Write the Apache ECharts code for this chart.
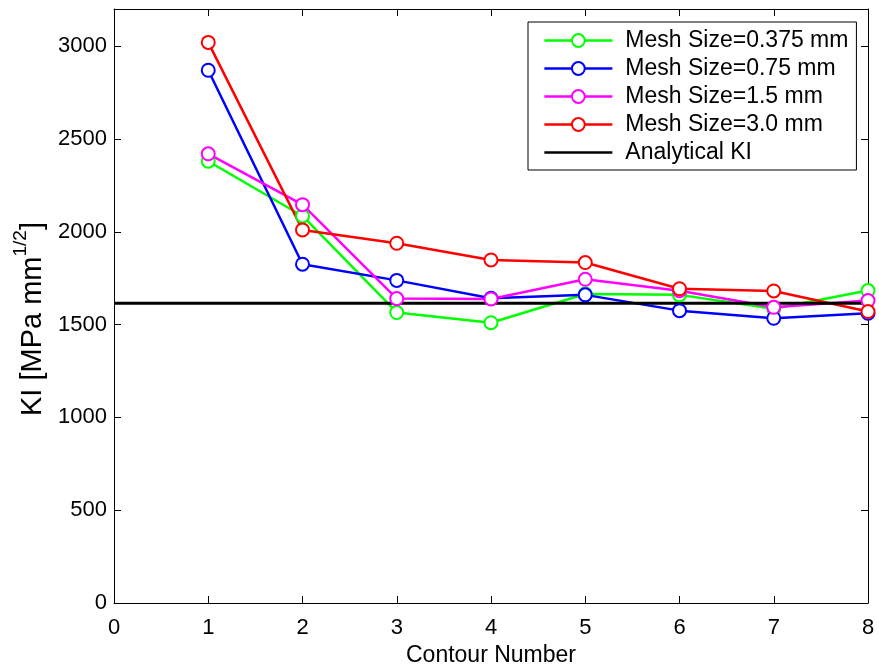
<!DOCTYPE html>
<html>
<head>
<meta charset="utf-8">
<script src="https://cdn.jsdelivr.net/npm/echarts@6/dist/echarts.min.js"></script>
<style>
  html, body { margin: 0; padding: 0; background: #fff; }
  #chart { width: 879px; height: 667px; }
</style>
</head>
<body>
<div id="chart"></div>
<script>
// Stress intensity factor KI per contour, for several mesh sizes
const contours = [1, 2, 3, 4, 5, 6, 7, 8];
const mesh0375 = [2380, 2085, 1565, 1510, 1665, 1660, 1585, 1683];
const mesh075  = [2870, 1825, 1738, 1642, 1660, 1575, 1534, 1561];
const mesh15   = [2420, 2146, 1640, 1638, 1744, 1682, 1593, 1629];
const mesh30   = [3020, 2010, 1938, 1848, 1834, 1693, 1681, 1570];
const analyticalKI = 1615;
const analyticalSpan = [0, 8];
const xTicks = [0, 1, 2, 3, 4, 5, 6, 7, 8];
const yTicks = [0, 500, 1000, 1500, 2000, 2500, 3000];
const seriesNames = ['Mesh Size=0.375 mm', 'Mesh Size=0.75 mm', 'Mesh Size=1.5 mm', 'Mesh Size=3.0 mm', 'Analytical KI'];
const seriesColors = ['#00ff00', '#0000ff', '#ff00ff', '#ff0000', '#000000'];

const FONT = 'Liberation Sans, Arial, Helvetica, sans-serif';
const pair = (ys) => contours.map((x, i) => [x, ys[i]]);

function meshSeries(idx, ys) {
  return {
    name: seriesNames[idx],
    type: 'line',
    data: pair(ys),
    symbol: 'emptyCircle',
    symbolSize: 13,
    showAllSymbol: true,
    lineStyle: { color: seriesColors[idx], width: 2.5 },
    itemStyle: { color: seriesColors[idx], borderColor: seriesColors[idx], borderWidth: 2.5 },
    animation: false
  };
}

function axisLine() {
  return { show: true, onZero: false, lineStyle: { color: '#000', width: 1 } };
}
function ticks(values) {
  return { show: true, inside: true, length: 7, customValues: values, lineStyle: { color: '#000', width: 1 } };
}

const chart = echarts.init(document.getElementById('chart'), null, { renderer: 'canvas' });

chart.setOption({
  backgroundColor: '#fff',
  animation: false,
  grid: { left: 114, right: 11, top: 9, bottom: 64, containLabel: false, outerBoundsMode: 'none' },
  xAxis: [
    {
      type: 'value', min: 0, max: 8, interval: 1,
      axisLine: axisLine(), axisTick: ticks(xTicks), splitLine: { show: false },
      axisLabel: { color: '#000', fontSize: 22, fontFamily: FONT, margin: 14, customValues: xTicks,
        formatter: (v) => String(v) },
      name: 'Contour Number', nameLocation: 'middle', nameGap: 36,
      nameTextStyle: { color: '#000', fontSize: 23, fontFamily: FONT }
    },
    {
      type: 'value', min: 0, max: 8, interval: 1, position: 'top',
      axisLine: axisLine(), axisTick: ticks(xTicks), splitLine: { show: false },
      axisLabel: { show: false }
    }
  ],
  yAxis: [
    {
      type: 'value', min: 0, max: 3200, interval: 500,
      axisLine: axisLine(), axisTick: ticks(yTicks), splitLine: { show: false },
      axisLabel: { color: '#000', fontSize: 22, fontFamily: FONT, margin: 7, customValues: yTicks,
        formatter: (v) => String(v) },
      name: '{a|KI [MPa mm}{s|1/2}{a|]}', nameLocation: 'middle', nameGap: 56,
      nameTextStyle: {
        color: '#000', fontFamily: FONT, padding: [0, 26, 0, 0],
        rich: {
          a: { fontSize: 29, fontFamily: FONT, color: '#000', lineHeight: 36, verticalAlign: 'bottom' },
          s: { fontSize: 19, fontFamily: FONT, color: '#000', lineHeight: 36, verticalAlign: 'top' }
        }
      }
    },
    {
      type: 'value', min: 0, max: 3200, interval: 500, position: 'right',
      axisLine: axisLine(), axisTick: ticks(yTicks), splitLine: { show: false },
      axisLabel: { show: false }
    }
  ],
  legend: {
    orient: 'vertical',
    left: 528, top: 22,
    padding: [7, 8, 6, 15],
    backgroundColor: '#fff',
    borderColor: '#000', borderWidth: 1,
    itemWidth: 68, itemHeight: 16, itemGap: 5,
    lineStyle: { width: 2.7 },
    textStyle: { color: '#000', fontSize: 23, fontFamily: FONT, padding: [0, 0, 0, 8] },
    data: seriesNames.map((n, i) => (i === 4 ? { name: n, itemStyle: { opacity: 0 } } : { name: n }))
  },
  series: [
    meshSeries(0, mesh0375),
    meshSeries(1, mesh075),
    meshSeries(2, mesh15),
    meshSeries(3, mesh30),
    {
      name: seriesNames[4],
      type: 'line',
      data: analyticalSpan.map((x) => [x, analyticalKI]),
      symbol: 'none',
      lineStyle: { color: '#000', width: 3 },
      itemStyle: { color: '#000' },
      animation: false
    }
  ]
});
</script>
</body>
</html>
